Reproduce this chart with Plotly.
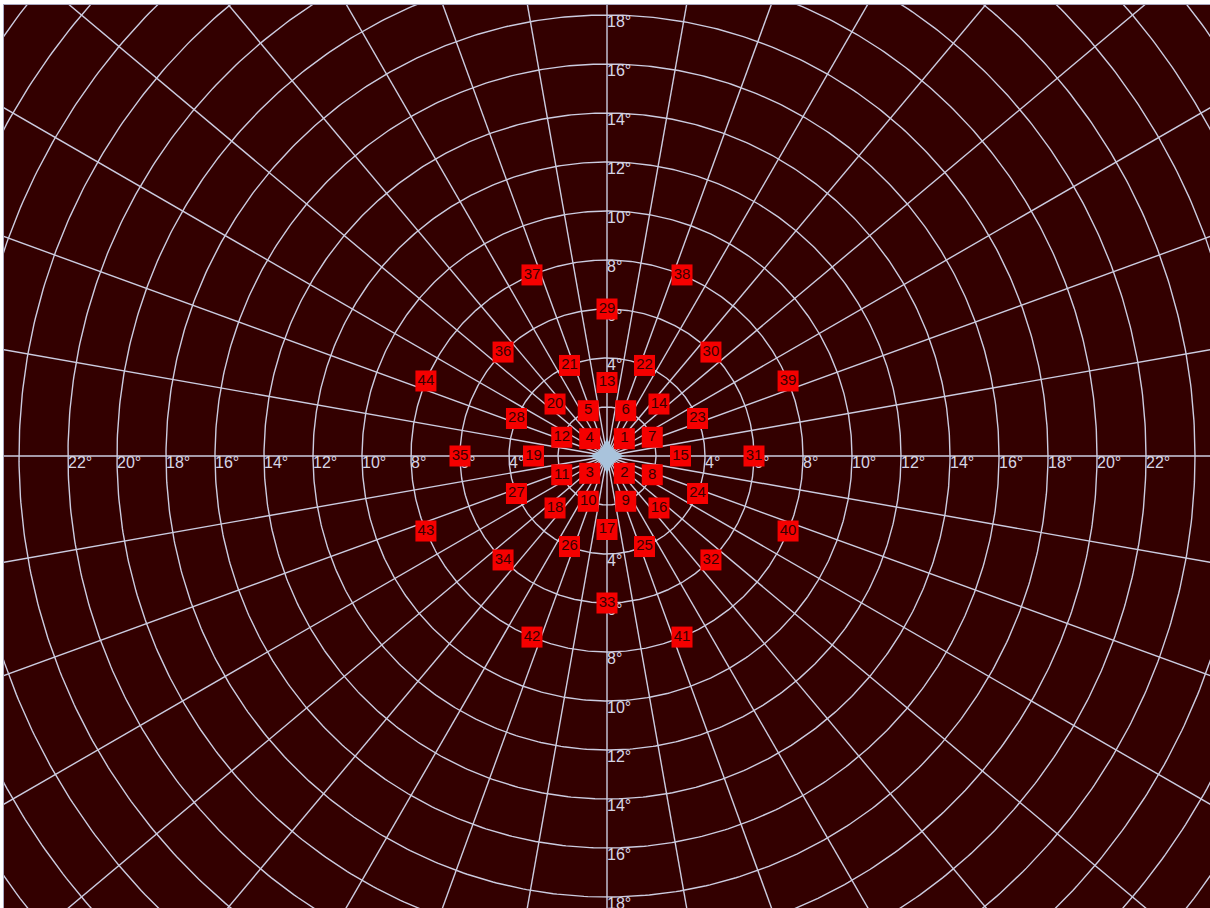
import numpy as np
import plotly.graph_objects as go

# ---- data ----
point_ids = list(range(1, 45))
point_ecc = [1, 1, 1, 1,
             2, 2, 2, 2, 2, 2, 2, 2,
             3, 3, 3, 3, 3, 3, 3, 3,
             4, 4, 4, 4, 4, 4, 4, 4,
             6, 6, 6, 6, 6, 6, 6, 6,
             8, 8, 8, 8, 8, 8, 8, 8]
point_angle = [45, -45, -135, 135,
               112.5, 67.5, 22.5, -22.5, -67.5, -112.5, -157.5, 157.5,
               90, 45, 0, -45, -90, -135, 180, 135,
               112.5, 67.5, 22.5, -22.5, -67.5, -112.5, -157.5, 157.5,
               90, 45, 0, -45, -90, -135, 180, 135,
               112.5, 67.5, 22.5, -22.5, -67.5, -112.5, -157.5, 157.5]
ring_radii = [2, 4, 6, 8, 10, 12, 14, 16, 18, 20, 22, 24, 26, 28, 30, 32]
spoke_angles = list(range(0, 360, 10))
h_label_radii = [4, 6, 8, 10, 12, 14, 16, 18, 20, 22]
v_label_radii = [4, 6, 8, 10, 12, 14, 16, 18]

GRID = "#cccce0"
BG = "#330000"

fig = go.Figure()

# rings
cx, cy = [], []
t = np.linspace(0, 2 * np.pi, 721)
for r in ring_radii:
    cx += list(r * np.cos(t)) + [None]
    cy += list(r * np.sin(t)) + [None]
fig.add_trace(go.Scatter(x=cx, y=cy, mode="lines", line=dict(color=GRID, width=1.4),
                         hoverinfo="skip", showlegend=False))

# spokes
sx, sy = [], []
for a in spoke_angles:
    ar = np.deg2rad(a)
    sx += [0, 40 * np.cos(ar), None]
    sy += [0, 40 * np.sin(ar), None]
fig.add_trace(go.Scatter(x=sx, y=sy, mode="lines", line=dict(color=GRID, width=1.4),
                         hoverinfo="skip", showlegend=False))

# axis degree labels
lx, ly, lt = [], [], []
for r in h_label_radii:
    for s in (-1, 1):
        lx.append(s * r); ly.append(0); lt.append(f"{r}°")
for r in v_label_radii:
    for s in (-1, 1):
        lx.append(0); ly.append(s * r); lt.append(f"{r}°")
fig.add_trace(go.Scatter(x=lx, y=ly, mode="text", text=lt, textposition="bottom right",
                         textfont=dict(family="Liberation Sans, Arial", size=16, color="#d6d6e6"),
                         hoverinfo="skip", showlegend=False))

# fixation point
fig.add_trace(go.Scatter(x=[0], y=[0], mode="markers",
                         marker=dict(symbol="star-diamond", size=27, color="#a9c3dc",
                                     line=dict(width=0)),
                         hoverinfo="skip", showlegend=False))

# stimulus points
ang = np.deg2rad(point_angle)
px = np.array(point_ecc) * np.cos(ang)
py = np.array(point_ecc) * np.sin(ang)
fig.add_trace(go.Scatter(x=px, y=py, mode="markers+text", text=[str(i) for i in point_ids],
                         textposition="middle center",
                         textfont=dict(family="Liberation Sans, Arial", size=15, color="#3a0000"),
                         marker=dict(symbol="square", size=21, color="#f50000",
                                     line=dict(width=0)),
                         showlegend=False))

s = 24.5  # px per degree
W, H = 1210, 908
ml, mt = 4, 5
cxp, cyp = 607, 456
fig.update_layout(
    width=W, height=H,
    margin=dict(l=ml, r=0, t=mt, b=0),
    paper_bgcolor="white", plot_bgcolor=BG,
    xaxis=dict(range=[-(cxp - ml) / s, (W - cxp) / s], showgrid=False, zeroline=False,
               showticklabels=False, ticks="", showline=True, side="top",
               linecolor="#a8a8c0", linewidth=1, fixedrange=True),
    yaxis=dict(range=[-(H - cyp) / s, (cyp - mt) / s], showgrid=False, zeroline=False,
               showticklabels=False, ticks="", showline=True,
               linecolor="#a8a8c0", linewidth=1, fixedrange=True),
)

fig.write_html("out.html", config={"displayModeBar": False})
